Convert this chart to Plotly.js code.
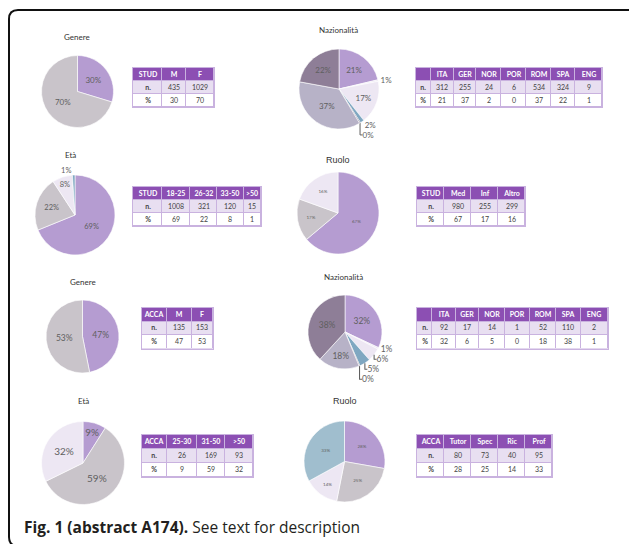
<!DOCTYPE html>
<html>
<head>
<meta charset="utf-8">
<script src="https://cdn.plot.ly/plotly-3.0.1.min.js"></script>
<style>html,body{margin:0;padding:0;background:#fff;}#chart{width:629px;height:544px;}</style>
</head>
<body>
<div id="chart"></div>
<script>
// ---------- DATA ----------
// STUD - Genere
const studGenereCols = ["M", "F"];
const studGenereN = [435, 1029];
const studGenerePct = [30, 70];
// STUD - Nazionalità (table order)
const studNazCols = ["ITA", "GER", "NOR", "POR", "ROM", "SPA", "ENG"];
const studNazN = [312, 255, 24, 6, 534, 324, 9];
const studNazPct = [21, 37, 2, 0, 37, 22, 1];
// pie order (clockwise from 12 o'clock) and labels as printed on the pie
const studNazPieCats = ["ITA", "ENG", "GER", "NOR", "POR", "ROM", "SPA"];
const studNazPieLabels = [21, 1, 17, 2, 0, 37, 22];
// STUD - Età
const studEtaCols = ["18-25", "26-32", "33-50", ">50"];
const studEtaN = [1008, 321, 120, 15];
const studEtaPct = [69, 22, 8, 1];
// STUD - Ruolo
const studRuoloCols = ["Med", "Inf", "Altro"];
const studRuoloN = [980, 255, 299];
const studRuoloPct = [67, 17, 16];
// ACCA - Genere
const accaGenereCols = ["M", "F"];
const accaGenereN = [135, 153];
const accaGenerePct = [47, 53];
// ACCA - Nazionalità
const accaNazCols = ["ITA", "GER", "NOR", "POR", "ROM", "SPA", "ENG"];
const accaNazN = [92, 17, 14, 1, 52, 110, 2];
const accaNazPct = [32, 6, 5, 0, 18, 38, 1];
const accaNazPieCats = ["ITA", "ENG", "GER", "NOR", "POR", "ROM", "SPA"];
const accaNazPieLabels = [32, 1, 6, 5, 0, 18, 38];
// ACCA - Età
const accaEtaCols = ["25-30", "31-50", ">50"];
const accaEtaN = [26, 169, 93];
const accaEtaPct = [9, 59, 32];
// ACCA - Ruolo
const accaRuoloCols = ["Tutor", "Spec", "Ric", "Prof"];
const accaRuoloN = [80, 73, 40, 95];
const accaRuoloPct = [28, 25, 14, 33];

// ---------- STYLE ----------
const W = 629, H = 544;
const PURPLE = "#b59cd1", GRAY = "#c9c4ca", LIGHT = "#ede7f3", BLUE = "#7fa7c1",
      MAUVE = "#8e7e97", LGRAY = "#b7b2c7", DARK = "#5e5470", BLUEGRAY = "#a0bece";
const HEAD = "#8c4fb3", ROW1 = "#e8dff1", LINE = "#c9b2df";
const FONT = "Lato, 'Open Sans', sans-serif";
const LABEL = "#5f5f5f";

function fx(x) { return x / W; }
function fy(y) { return 1 - y / H; }
function pieDomain(cx, cy, r) {
  return { x: [fx(cx - r), fx(cx + r)], y: [fy(cy + r), fy(cy - r)] };
}
function lookup(cats, keys, arr) { return keys.map(k => arr[cats.indexOf(k)]); }

function pie(values, labels, texts, colors, pos, dom, fsize) {
  return {
    type: "pie", values: values, labels: labels, sort: false, direction: "clockwise",
    rotation: 0, domain: dom, showlegend: false, hoverinfo: "label+value",
    text: texts.map(t => t + "%"), textinfo: "text", textposition: pos,
    insidetextorientation: "horizontal",
    textfont: { family: FONT, size: fsize, color: LABEL },
    outsidetextfont: { family: FONT, size: fsize, color: LABEL },
    marker: { colors: colors, line: { color: "#ffffff", width: 0.6 } }
  };
}

// tables drawn as heatmaps: one row of header cells, then "n." and "%" rows
const axesLayout = {};
function table(k, first, cols, n, pct, box, widths, rowH) {
  const hdr = ["<b>" + first + "</b>"].concat(cols.map(c => "<b>" + c + "</b>"));
  const rowN = ["<b>n.</b>"].concat(n.map(String));
  const rowP = ["<b>%</b>"].concat(pct.map(String));
  const edges = [0];
  widths.forEach(w => edges.push(edges[edges.length - 1] + w));
  const nc = widths.length;
  const z = [0, 1, 2].map(r => new Array(nc).fill(r));
  const sfx = k === 1 ? "" : String(k);
  axesLayout["xaxis" + sfx] = {
    domain: [fx(box[0]), fx(box[1])], range: [0, edges[nc]], anchor: "y" + sfx,
    showgrid: false, zeroline: false, showticklabels: false, ticks: "",
    showline: true, mirror: true, linecolor: LINE, linewidth: 1, fixedrange: true
  };
  axesLayout["yaxis" + sfx] = {
    domain: [fy(box[2] + rowH * 3), fy(box[2])], range: [2.5, -0.5], anchor: "x" + sfx,
    showgrid: false, zeroline: false, showticklabels: false, ticks: "",
    showline: true, mirror: true, linecolor: LINE, linewidth: 1, fixedrange: true
  };
  return {
    type: "heatmap", xaxis: "x" + sfx, yaxis: "y" + sfx,
    x: edges, y: [0, 1, 2], z: z, text: [hdr, rowN, rowP],
    texttemplate: "%{text}", textfont: { family: FONT, size: 7, color: "auto" },
    zmin: 0, zmax: 2, showscale: false, hoverinfo: "skip",
    colorscale: [[0, HEAD], [0.25, HEAD], [0.25, ROW1], [0.75, ROW1], [0.75, "#ffffff"], [1, "#ffffff"]],
    xgap: 1, ygap: 1
  };
}

const data = [
  pie(studGenereN, studGenereCols, studGenerePct, [PURPLE, GRAY], "inside", pieDomain(77.5, 91.5, 36), 8),
  pie(lookup(studNazCols, studNazPieCats, studNazN), studNazPieCats, studNazPieLabels,
      [PURPLE, LIGHT, LIGHT, BLUE, DARK, LGRAY, MAUVE],
      ["inside", "outside", "inside", "outside", "outside", "inside", "inside"], pieDomain(339, 89, 40), 8),
  pie(studEtaN, studEtaCols, studEtaPct, [PURPLE, GRAY, LIGHT, BLUE],
      ["inside", "inside", "inside", "outside"], pieDomain(75, 215, 40), 7.5),
  pie(studRuoloN, studRuoloCols, studRuoloPct, [PURPLE, GRAY, LIGHT], "inside", pieDomain(338, 213, 41), 4.5),
  pie(accaGenereN, accaGenereCols, accaGenerePct, [PURPLE, GRAY], "inside", pieDomain(82.5, 336.5, 36.5), 8.5),
  pie(lookup(accaNazCols, accaNazPieCats, accaNazN), accaNazPieCats, accaNazPieLabels,
      [PURPLE, LIGHT, LIGHT, BLUE, DARK, LGRAY, MAUVE],
      ["inside", "outside", "outside", "outside", "outside", "inside", "inside"], pieDomain(345, 332, 37), 8.5),
  pie(accaEtaN, accaEtaCols, accaEtaPct, [PURPLE, GRAY, LIGHT], "inside", pieDomain(83, 463, 41.5), 10),
  pie(accaRuoloN, accaRuoloCols, accaRuoloPct, [PURPLE, GRAY, LIGHT, BLUEGRAY], "inside", pieDomain(344.5, 461.5, 40.5), 4.5),
  table(1, "STUD", studGenereCols, studGenereN, studGenerePct, [133, 214, 68], [88, 72, 83], 13),
  table(2, "", studNazCols, studNazN, studNazPct, [416, 602, 68], [45, 68, 69, 75, 74, 76, 73, 80], 13),
  table(3, "STUD", studEtaCols, studEtaN, studEtaPct, [133, 261, 187], [87, 85, 80, 80, 52], 13),
  table(4, "STUD", studRuoloCols, studRuoloN, studRuoloPct, [417, 525, 187], [1, 1, 1, 1], 13),
  table(5, "ACCA", accaGenereCols, accaGenereN, accaGenerePct, [142, 213, 308], [75, 75, 65], 13.5),
  table(6, "", accaNazCols, accaNazN, accaNazPct, [417, 608, 308], [45, 68, 69, 75, 74, 76, 73, 80], 13.5),
  table(7, "ACCA", accaEtaCols, accaEtaN, accaEtaPct, [142, 253, 435], [75, 90, 85, 85], 14),
  table(8, "ACCA", accaRuoloCols, accaRuoloN, accaRuoloPct, [417, 552, 435], [1, 1, 1, 1, 1], 14)
];

function title(text, x, y, size, fam) {
  return { text: text, x: fx(x), y: fy(y), xref: "paper", yref: "paper", showarrow: false,
    xanchor: "center", yanchor: "middle", font: { family: fam || FONT, size: size || 8, color: "#333333" } };
}
const annotations = [
  title("Genere", 77, 37), title("Nazionalità", 338, 30), title("Età", 70, 155),
  title("Ruolo", 338, 160, 9, "'Liberation Sans', Arial, sans-serif"),
  title("Genere", 83, 282), title("Nazionalità", 343, 277), title("Età", 83, 401),
  title("Ruolo", 345, 401, 9, "'Liberation Sans', Arial, sans-serif"),
  { text: "<b>Fig. 1 (abstract A174).</b> See text for description", x: fx(22), y: fy(527),
    xref: "paper", yref: "paper", showarrow: false, xanchor: "left", yanchor: "middle",
    font: { family: "'Open Sans', sans-serif", size: 15.5, color: "#231f20" } }
];

const p = (x, y) => fx(x).toFixed(5) + "," + fy(y).toFixed(5);
const framePath = "M" + p(632, 10) + " L" + p(18, 10) + " Q" + p(9, 10) + " " + p(9, 19) +
  " L" + p(9, 537) + " Q" + p(9, 546) + " " + p(18, 546) + " L" + p(632, 546);

const layout = Object.assign({
  width: W, height: H, margin: { l: 0, r: 0, t: 0, b: 0 },
  paper_bgcolor: "#ffffff", plot_bgcolor: LINE, showlegend: false,
  annotations: annotations,
  shapes: [{ type: "path", path: framePath, xref: "paper", yref: "paper",
    line: { color: "#111111", width: 2 } }]
}, axesLayout);

Plotly.newPlot("chart", data, layout, { displayModeBar: false, staticPlot: true });
</script>
</body>
</html>
